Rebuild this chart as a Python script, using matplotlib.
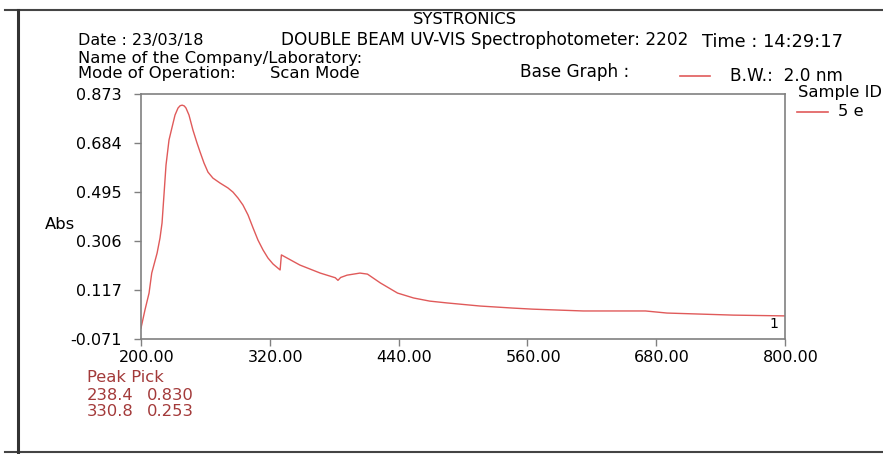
import matplotlib.pyplot as plt
from matplotlib.lines import Line2D
from matplotlib.transforms import ScaledTranslation

# scan of sample 5 e, wavelength (nm) vs absorbance
wavelength = [200, 203.7, 207.5, 210, 215, 217.7, 219.6, 221.4, 223.3, 226.1,
              229, 231.7, 234.5, 236.5, 238.4, 240.3, 241.9, 244.7, 248.4, 252.2,
              255, 258.7, 262.4, 267, 273.6, 281, 285.7, 290.4, 295, 299.7,
              304.4, 309, 313.7, 318.3, 323, 327.6, 329.6, 330.8, 348, 367,
              381, 383.5, 386, 392, 404, 411, 423, 439, 454, 469,
              485, 516, 547, 565, 612, 670, 690, 721, 752, 800]
absorbance = [-0.029, 0.041, 0.106, 0.183, 0.260, 0.318, 0.376, 0.484, 0.599, 0.696,
              0.746, 0.792, 0.819, 0.828, 0.830, 0.827, 0.819, 0.792, 0.734, 0.684,
              0.650, 0.607, 0.572, 0.549, 0.530, 0.511, 0.495, 0.472, 0.445, 0.407,
              0.357, 0.310, 0.272, 0.241, 0.218, 0.202, 0.195, 0.253, 0.214, 0.183,
              0.165, 0.155, 0.166, 0.175, 0.183, 0.179, 0.145, 0.106, 0.087, 0.075,
              0.068, 0.056, 0.048, 0.044, 0.037, 0.037, 0.029, 0.025, 0.021, 0.018]

yticks = [-0.071, 0.117, 0.306, 0.495, 0.684, 0.873]
xticks = [200, 320, 440, 560, 680, 800]

# peak pick table
peak_wl = [238.4, 330.8]
peak_abs = [0.830, 0.253]

line_col = '#e05a5a'
peak_col = '#a33a3a'
fs = 11.8

fig = plt.figure(figsize=(8.83, 4.54), dpi=100)
W, H = 883.0, 454.0

def fx(px):
    return px / W

def fy(py):
    return 1 - py / H

# page border lines
fig.add_artist(Line2D([fx(5), 1], [fy(10), fy(10)], color='#444444', lw=1.5))
fig.add_artist(Line2D([fx(5), 1], [fy(452), fy(452)], color='#444444', lw=1.5))
fig.add_artist(Line2D([fx(17.5), fx(17.5)], [fy(10), fy(454)], color='#333333', lw=2.2))

ax = fig.add_axes([fx(141), fy(339), fx(785) - fx(141), fy(94) - fy(339)])
ax.plot(wavelength, absorbance, color=line_col, lw=1.0)
ax.set_xlim(200, 800)
ax.set_ylim(-0.071, 0.873)
ax.set_xticks(xticks)
ax.set_xticklabels(['%.2f' % v for v in xticks], fontsize=11.5)
ax.set_yticks(yticks)
ax.set_yticklabels(['%.3f' % v for v in yticks], fontsize=11.5)
for s in ax.spines.values():
    s.set_color('#808080')
    s.set_linewidth(1.2)
ax.tick_params(direction='out', length=5, width=1, color='#808080')
ax.tick_params(axis='y', pad=9)
ax.tick_params(axis='x', pad=3)
# x labels sit a little right of their ticks
shift = ScaledTranslation(6 / 100, 0, fig.dpi_scale_trans)
for lab in ax.get_xticklabels():
    lab.set_transform(lab.get_transform() + shift)
ax.text(794, -0.012, '1', ha='right', va='center', fontsize=10)

# header text
fig.text(fx(465), fy(19), 'SYSTRONICS', ha='center', va='center', fontsize=fs)
fig.text(fx(78), fy(41), 'Date : 23/03/18', ha='left', va='center', fontsize=11.5)
fig.text(fx(281), fy(40), 'DOUBLE BEAM UV-VIS Spectrophotometer: 2202',
         ha='left', va='center', fontsize=12.2)
fig.text(fx(702), fy(42), 'Time : 14:29:17', ha='left', va='center', fontsize=12.8)
fig.text(fx(78), fy(58), 'Name of the Company/Laboratory:', ha='left', va='center', fontsize=fs)
fig.text(fx(78), fy(74), 'Mode of Operation:', ha='left', va='center', fontsize=fs)
fig.text(fx(270), fy(74), 'Scan Mode', ha='left', va='center', fontsize=fs)
fig.text(fx(520), fy(72), 'Base Graph :', ha='left', va='center', fontsize=12.2)
fig.add_artist(Line2D([fx(680), fx(710)], [fy(76), fy(76)], color=line_col, lw=1.2))
fig.text(fx(730), fy(76), 'B.W.:  2.0 nm', ha='left', va='center', fontsize=12.2)
fig.text(fx(798), fy(93), 'Sample ID', ha='left', va='center', fontsize=fs)
fig.add_artist(Line2D([fx(797), fx(828)], [fy(112), fy(112)], color=line_col, lw=1.2))
fig.text(fx(838), fy(112), '5 e', ha='left', va='center', fontsize=fs)
fig.text(fx(45), fy(225), 'Abs', ha='left', va='center', fontsize=fs)

# peak pick listing
fig.text(fx(87), fy(377), 'Peak Pick', ha='left', va='center', fontsize=fs, color=peak_col)
for i in range(len(peak_wl)):
    yy = fy(395 + 17 * i)
    fig.text(fx(87), yy, '%.1f' % peak_wl[i], ha='left', va='center', fontsize=fs, color=peak_col)
    fig.text(fx(147), yy, '%.3f' % peak_abs[i], ha='left', va='center', fontsize=fs, color=peak_col)

fig.savefig('out.png', dpi=100)
